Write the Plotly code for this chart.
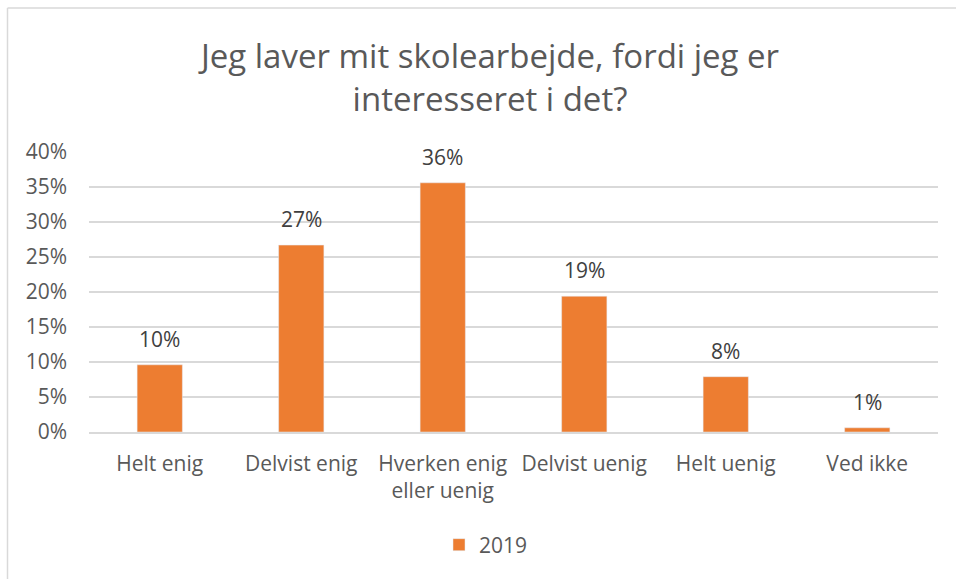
import plotly.graph_objects as go

categories = ["Helt enig", "Delvist enig", "Hverken enig<br>eller uenig", "Delvist uenig", "Helt uenig", "Ved ikke"]
values_2019 = [0.096, 0.267, 0.356, 0.194, 0.079, 0.006]
series_name = "2019"
y_ticks = [0, 0.05, 0.10, 0.15, 0.20, 0.25, 0.30, 0.35, 0.40]

W, H = 956, 579
ml, mr, mt, mb = 89, 18, 152, 147

font_family = "Open Sans, Liberation Sans, sans-serif"
text_color = "#595959"
bar_color = "#ED7D31"
fs = 21

fig = go.Figure()
fig.add_trace(go.Bar(
    x=categories, y=values_2019, name=series_name,
    marker=dict(color=bar_color),
    cliponaxis=False,
))

for cat, val in zip(categories, values_2019):
    fig.add_annotation(x=cat, y=val, text=f"{val:.0%}", showarrow=False,
                       yanchor="bottom", yshift=10,
                       font=dict(size=fs, color="#404040", family=font_family))

pw = W - ml - mr
ph = H - mt - mb
# outer chart border (only top and left are visible in the crop)
fig.add_shape(type="line", xref="paper", yref="paper",
              x0=(7.5 - ml) / pw, x1=(W + 5 - ml) / pw,
              y0=1 + (mt - 8) / ph, y1=1 + (mt - 8) / ph,
              line=dict(color="#d9d9d9", width=1.5), layer="below")
fig.add_shape(type="line", xref="paper", yref="paper",
              x0=(7.5 - ml) / pw, x1=(7.5 - ml) / pw,
              y0=-(H + 5 - mt - ph) / ph, y1=1 + (mt - 8) / ph,
              line=dict(color="#d9d9d9", width=1.5), layer="below")

fig.update_layout(
    width=W, height=H,
    margin=dict(l=ml, r=mr, t=mt, b=mb),
    paper_bgcolor="white", plot_bgcolor="white",
    title=dict(text="Jeg laver mit skolearbejde, fordi jeg er<br>interesseret i det?",
               x=490 / W, xanchor="center", y=1 - 68 / H, yanchor="middle",
               font=dict(size=33, color=text_color, family=font_family)),
    bargap=0.68,
    showlegend=True,
    legend=dict(orientation="h", x=(486 - ml) / pw, xanchor="center", y=-(545 - mt - ph) / ph,
                yanchor="middle", font=dict(size=fs, color=text_color, family=font_family),
                itemwidth=30),
    xaxis=dict(showgrid=False, showline=True, linecolor="#d9d9d9", linewidth=1.5,
               tickfont=dict(size=fs, color=text_color, family=font_family),
               ticks="", ticklabelstandoff=12),
    yaxis=dict(range=[0, 0.40], tickvals=y_ticks, tickformat=".0%",
               showgrid=True, gridcolor="#d9d9d9", gridwidth=1.5,
               zeroline=False, showline=False, ticks="",
               tickfont=dict(size=fs, color=text_color, family=font_family),
               ticklabelstandoff=21),
)

fig.write_html("out.html", config={"displayModeBar": False},
               post_script="document.body.style.margin='0px';")
